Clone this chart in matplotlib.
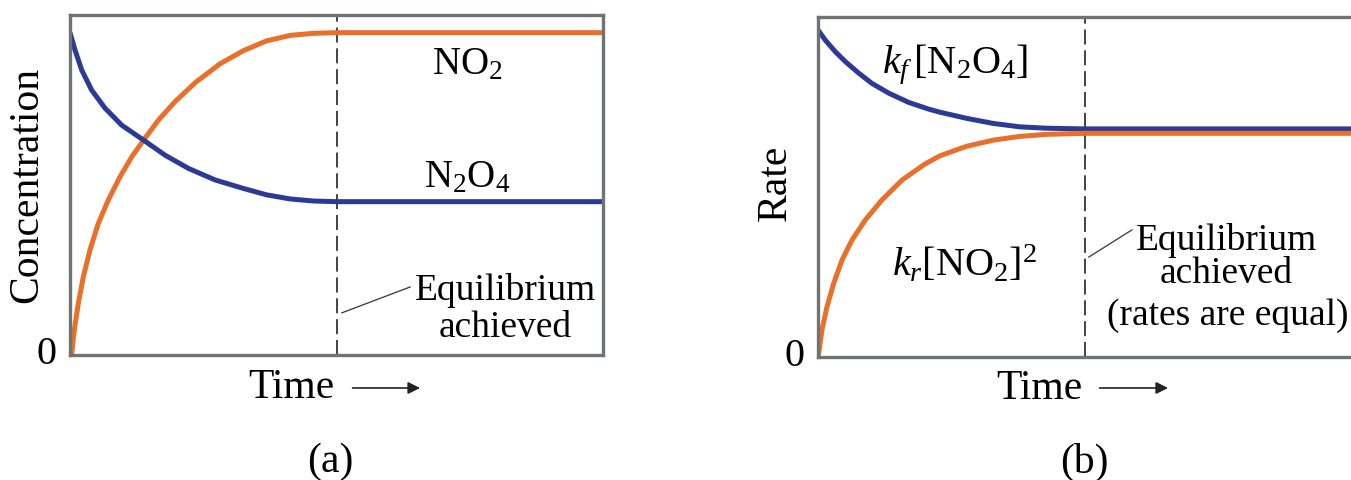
import matplotlib
matplotlib.use("Agg")
import matplotlib.pyplot as plt

plt.rcParams['font.family'] = ['Liberation Serif', 'DejaVu Serif']
plt.rcParams['mathtext.fontset'] = 'custom'
plt.rcParams['mathtext.rm'] = 'Liberation Serif'
plt.rcParams['mathtext.it'] = 'Liberation Serif:italic'

# (a) concentration vs time (0..1 scale)
t_no2 = [0, 0.0032, 0.0081, 0.0156, 0.025, 0.0375, 0.0531, 0.0719, 0.0938, 0.116, 0.138,
         0.166, 0.197, 0.235, 0.281, 0.325, 0.369, 0.413, 0.456, 0.5, 1.0]
c_no2 = [0, 0.005, 0.074, 0.152, 0.230, 0.309, 0.387, 0.456, 0.524, 0.583, 0.632,
         0.691, 0.745, 0.801, 0.856, 0.895, 0.924, 0.940, 0.946, 0.948, 0.948]
t_n2o4 = [0, 0.0094, 0.022, 0.0407, 0.0657, 0.097, 0.138, 0.178, 0.222, 0.272, 0.325,
          0.369, 0.413, 0.456, 0.5, 1.0]
c_n2o4 = [0.948, 0.897, 0.838, 0.779, 0.726, 0.676, 0.632, 0.588, 0.549, 0.515, 0.490,
          0.471, 0.459, 0.453, 0.451, 0.451]

# (b) rates vs time
t_fwd = [0, 0.0137, 0.0325, 0.0512, 0.0764, 0.101, 0.133, 0.170, 0.208, 0.229, 0.279,
         0.329, 0.379, 0.429, 0.5, 1.0]
r_fwd = [0.961, 0.931, 0.897, 0.868, 0.834, 0.804, 0.775, 0.748, 0.728, 0.719, 0.701,
         0.686, 0.676, 0.672, 0.670, 0.670]
t_rev = [0, 0.0013, 0.0075, 0.0169, 0.0295, 0.045, 0.0638, 0.0887, 0.120, 0.158, 0.201,
         0.229, 0.279, 0.329, 0.379, 0.429, 0.5, 1.0]
r_rev = [0, 0.010, 0.079, 0.147, 0.216, 0.284, 0.343, 0.402, 0.461, 0.520, 0.567,
         0.591, 0.619, 0.637, 0.648, 0.654, 0.657, 0.657]

t_eq = 0.5

orange = '#E8702A'
blue = '#2B3A97'
frame = '#6F7372'

fig = plt.figure(figsize=(13.51, 4.80), dpi=100)
ax1 = fig.add_axes([70 / 1351, 125 / 480, 533 / 1351, 340 / 480])
ax2 = fig.add_axes([818 / 1351, 123.3 / 480, 533 / 1351, 340 / 480])

for ax in (ax1, ax2):
    ax.set_xlim(0, 1)
    ax.set_ylim(0, 1)
    ax.set_xticks([])
    ax.set_yticks([])
    for s in ax.spines.values():
        s.set_color(frame)
        s.set_linewidth(2.4)
    ax.axvline(t_eq, color='#222222', lw=1.2, dashes=(9, 3.5))
    ax.text(-0.044, 0, '0', fontsize=29, ha='center', va='center')
    ax.text(0.415, -0.095, 'Time', fontsize=30, ha='center', va='center')
ax2.spines['right'].set_visible(False)

# panel (a)
ax1.plot(t_no2, c_no2, color=orange, lw=3.6, solid_capstyle='butt')
ax1.plot(t_n2o4, c_n2o4, color=blue, lw=3.6, solid_capstyle='butt')
ax1.text(-0.081, 0.5, 'Concentration', fontsize=30, rotation=90, ha='center', va='center')
ax1.text(0.745, 0.853, r'NO$_2$', fontsize=28, ha='center', va='center')
ax1.text(0.745, 0.521, r'N$_2$O$_4$', fontsize=28, ha='center', va='center')
ax1.text(0.818, 0.19, 'Equilibrium', fontsize=27, ha='center', va='center')
ax1.text(0.816, 0.08, 'achieved', fontsize=27, ha='center', va='center')
ax1.plot([0.51, 0.638], [0.124, 0.2], color='#333333', lw=0.9)
ax1.annotate('', xy=(0.662, -0.097), xytext=(0.525, -0.097), xycoords='data',
             arrowprops=dict(arrowstyle='-|>', color='#222222', lw=1.2, mutation_scale=18),
             annotation_clip=False)
ax1.text(0.488, -0.315, '(a)', fontsize=30, ha='center', va='center')

# panel (b)
ax2.plot(t_fwd, r_fwd, color=blue, lw=3.6, solid_capstyle='butt')
ax2.plot(t_rev, r_rev, color=orange, lw=3.6, solid_capstyle='butt')
ax2.text(-0.079, 0.51, 'Rate', fontsize=30, rotation=90, ha='center', va='center')
ax2.text(0.257, 0.858, r'$k_f\,$[N$_2$O$_4$]', fontsize=29, ha='center', va='center')
ax2.text(0.274, 0.27, r'$k_r$[NO$_2$]$^2$', fontsize=29, ha='center', va='center')
ax2.text(0.767, 0.343, 'Equilibrium', fontsize=27, ha='center', va='center')
ax2.text(0.765, 0.243, 'achieved', fontsize=27, ha='center', va='center')
ax2.text(0.769, 0.12, '(rates are equal)', fontsize=27, ha='center', va='center')
ax2.plot([0.508, 0.589], [0.293, 0.373], color='#333333', lw=0.9)
ax2.annotate('', xy=(0.662, -0.092), xytext=(0.523, -0.092), xycoords='data',
             arrowprops=dict(arrowstyle='-|>', color='#222222', lw=1.2, mutation_scale=18),
             annotation_clip=False)
ax2.text(0.499, -0.31, '(b)', fontsize=30, ha='center', va='center')

fig.savefig('out.png', dpi=100)
